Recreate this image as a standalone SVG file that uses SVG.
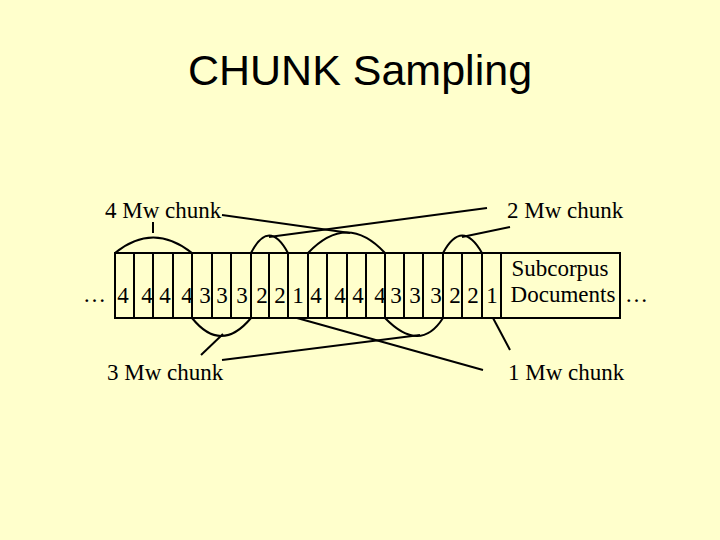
<svg xmlns="http://www.w3.org/2000/svg" width="720" height="540" viewBox="0 0 720 540">
<style>
.s{fill:none;stroke:#000;stroke-width:2}
.t{font-family:"Liberation Serif",serif;font-size:23px;fill:#000}
.d{font-family:"Liberation Serif",serif;font-size:23px;fill:#000;text-anchor:middle}
</style>
<rect width="720" height="540" fill="#FFFFCC"/>
<text x="360" y="85" text-anchor="middle" font-family="Liberation Sans,sans-serif" font-size="43">CHUNK Sampling</text>
<g id="cells">
<rect class="s" x="115" y="253" width="505" height="65"/>
<path class="s" d="M134 253V318M153 253V318M173 253V318M192 253V318M212 253V318M231 253V318M251 253V318M269 253V318M288 253V318M308 253V318M327 253V318M347 253V318M366 253V318M385 253V318M404 253V318M423 253V318M443 253V318M462 253V318M482 253V318M501 253V318"/>
<g class="d">
<text x="123" y="303">4</text><text x="147" y="303">4</text><text x="165" y="303">4</text><text x="187" y="303">4</text><text x="205" y="303">3</text><text x="222" y="303">3</text><text x="242" y="303">3</text><text x="262" y="303">2</text><text x="280" y="303">2</text><text x="298" y="303">1</text>
<text x="316" y="303">4</text><text x="340" y="303">4</text><text x="358" y="303">4</text><text x="380" y="303">4</text><text x="396" y="303">3</text><text x="415" y="303">3</text><text x="436" y="303">3</text><text x="455" y="303">2</text><text x="473" y="303">2</text><text x="492" y="303">1</text>
</g>
<text class="d" x="560" y="276" font-size="21">Subcorpus</text>
<text class="d" x="563" y="302" font-size="21">Documents</text>
<text class="t" x="83" y="302">…</text>
<text class="t" x="625" y="302">…</text>
</g>
<g id="connectors" class="s">
<path d="M115 253Q153 222 192 253M153 233V222"/>
<path d="M251 253Q269 218 288 253"/>
<path d="M308 253Q347 212 385 253"/>
<path d="M443 253Q462 218 482 253"/>
<path d="M192 318Q221 354 251 318"/>
<path d="M385 318Q420 354 443 318"/>
<path d="M222 215L350 233"/>
<path d="M487 208L269 237"/>
<path d="M510 227L462 237"/>
<path d="M201 355L223 334"/>
<path d="M222 360L420 335"/>
<path d="M297 318L483 370"/>
<path d="M493 318L510 350"/>
</g>
<g id="labels" class="t">
<text x="105" y="218">4 Mw chunk</text>
<text x="507" y="218">2 Mw chunk</text>
<text x="107" y="380">3 Mw chunk</text>
<text x="508" y="380">1 Mw chunk</text>
</g>
</svg>
